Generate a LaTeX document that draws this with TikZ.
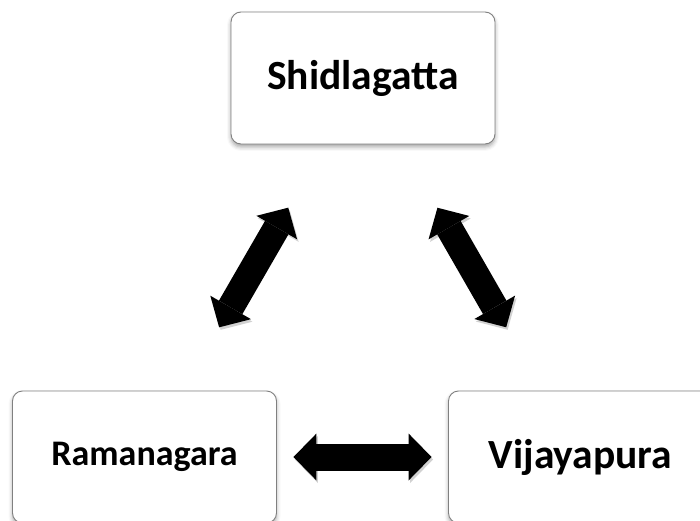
\documentclass[tikz,border=0pt]{standalone}
\usepackage{fontspec}
\setmainfont{Carlito}
\usetikzlibrary{arrows.meta,shadows.blur}

\tikzset{
  place/.style={draw=black!50, line width=0.9pt, rounded corners=10pt, fill=white,
    minimum width=264pt, minimum height=132pt, inner sep=0pt, font=\bfseries,
    blur shadow={shadow xshift=0pt, shadow yshift=-3pt, shadow blur radius=4pt, shadow opacity=35}},
  link/.style={line width=27pt, {Triangle[length=23pt, width=47pt, line width=0pt]}-{Triangle[length=23pt, width=47pt, line width=0pt]},
    preaction={draw=black, opacity=.18, transform canvas={xshift=1.5pt, yshift=-2.5pt}}}
}

\begin{document}
\begin{tikzpicture}[x=1pt, y=1pt]
\useasboundingbox (0,0) rectangle (700,520);
\clip (0,0) rectangle (700,520);

% the three places
\node [place, font=\bfseries\fontsize{41.5}{48}\selectfont] (shid) at (363,442) {Shidlagatta};
\node [place, font=\bfseries\fontsize{36}{42}\selectfont] (rama) at (144.5,63) {Ramanagara};
\node [place, font=\bfseries\fontsize{41.5}{48}\selectfont] (vija) at (580.5,63) {Vijayapura};

% links between them
\draw [link, shorten <=73pt, shorten >=73pt] (shid) -- (rama);
\draw [link, shorten <=73pt, shorten >=73pt] (shid) -- (vija);
\draw [link, shorten <=16.5pt, shorten >=16.5pt] (rama) -- (vija);
\end{tikzpicture}
\end{document}
